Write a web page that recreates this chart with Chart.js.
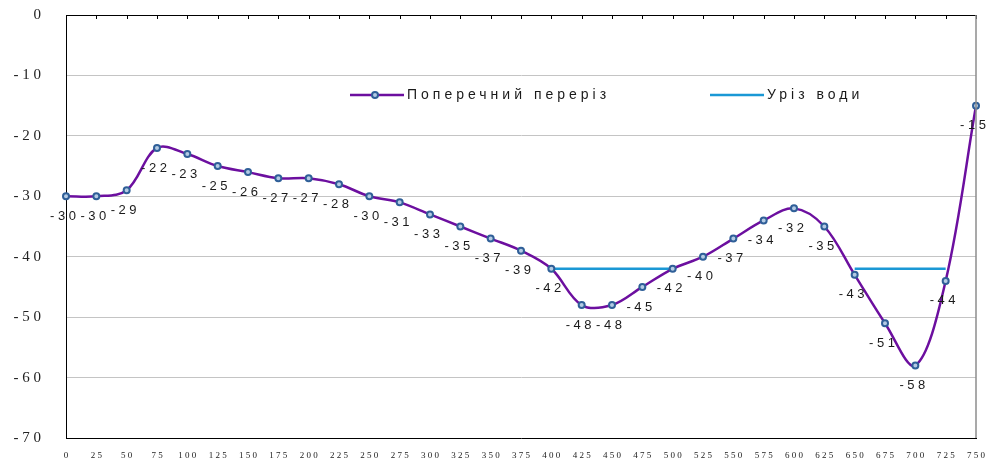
<!DOCTYPE html>
<html>
<head>
<meta charset="utf-8">
<script src="https://cdn.jsdelivr.net/npm/chart.js@4/dist/chart.umd.min.js"></script>
<style>
  html, body { margin: 0; padding: 0; background: #fff; }
</style>
</head>
<body>
<canvas id="chart" width="987" height="464"></canvas>
<script>
// --- Data ---
const distances = [0, 25, 50, 75, 100, 125, 150, 175, 200, 225, 250, 275, 300, 325, 350, 375,
                   400, 425, 450, 475, 500, 525, 550, 575, 600, 625, 650, 675, 700, 725, 750];
const depths = [-30, -30, -29, -22, -23, -25, -26, -27, -27, -28, -30, -31, -33, -35, -37, -39,
                -42, -48, -48, -45, -42, -40, -37, -34, -32, -35, -43, -51, -58, -44, -15];
const waterX = [400, 500, 575, 650, 725];
const waterY = [-42, -42, null, -42, -42];
const seriesNames = ["Поперечний переріз", "Уріз води"];

const PURPLE = "#6c0f9f";
const WATER = "#1a98d5";

// "-30" -> "- 3 0"
const spaced = v => String(v).split("").join(" ");

// drop the automatic label padding so the plot box sits where we want it
const noPad = s => { s.paddingTop = 0; s.paddingBottom = 0; s.paddingLeft = 0; s.paddingRight = 0; };

// top border with inward ticks + grey right border
const framePlugin = {
    id: "frame",
    afterDraw(chart) {
        const { ctx, chartArea: a, scales: { x } } = chart;
        ctx.save();
        ctx.strokeStyle = "#000";
        ctx.lineWidth = 1;
        ctx.beginPath();
        ctx.moveTo(a.left, a.top + 0.5);
        ctx.lineTo(a.right, a.top + 0.5);
        x.ticks.forEach(t => {
            const px = Math.round(x.getPixelForValue(t.value)) + 0.5;
            ctx.moveTo(px, a.top);
            ctx.lineTo(px, a.top + 4);
        });
        ctx.stroke();
        ctx.strokeStyle = "#8c8c8c";
        ctx.lineWidth = 1.5;
        ctx.beginPath();
        ctx.moveTo(a.right, a.top);
        ctx.lineTo(a.right, a.bottom);
        ctx.stroke();
        ctx.restore();
    }
};

// value labels under each point
const labelPlugin = {
    id: "pointLabels",
    afterDatasetsDraw(chart) {
        const { ctx } = chart;
        const meta = chart.getDatasetMeta(0);
        ctx.save();
        ctx.font = "13px 'Liberation Sans', Arial, sans-serif";
        ctx.letterSpacing = "3.5px";
        ctx.fillStyle = "#1a1a1a";
        ctx.textBaseline = "middle";
        ctx.textAlign = "left";
        meta.data.forEach((pt, i) => {
            const txt = String(depths[i]);
            const w = ctx.measureText(txt).width - 3.5;
            ctx.fillText(txt, pt.x - 3 - w / 2, pt.y + 20);
        });
        ctx.restore();
    }
};

// legend drawn inside the plot
const legendPlugin = {
    id: "innerLegend",
    afterDraw(chart) {
        const { ctx } = chart;
        const ds = chart.data.datasets;
        const y = 95;
        const items = [{ x: 350, d: ds[0], marker: true }, { x: 710, d: ds[1], marker: false }];
        ctx.save();
        items.forEach(it => {
            ctx.strokeStyle = it.d.borderColor;
            ctx.lineWidth = it.d.borderWidth;
            ctx.beginPath();
            ctx.moveTo(it.x, y);
            ctx.lineTo(it.x + 54, y);
            ctx.stroke();
            if (it.marker) {
                ctx.beginPath();
                ctx.arc(it.x + 25, y, it.d.pointRadius, 0, Math.PI * 2);
                ctx.fillStyle = it.d.pointBackgroundColor;
                ctx.fill();
                ctx.lineWidth = it.d.pointBorderWidth;
                ctx.strokeStyle = it.d.pointBorderColor;
                ctx.stroke();
            }
            ctx.font = "14px 'Liberation Sans', Arial, sans-serif";
            ctx.letterSpacing = "4px";
            ctx.fillStyle = "#1a1a1a";
            ctx.textBaseline = "middle";
            ctx.fillText(it.d.label, it.x + 57, y);
        });
        ctx.restore();
    }
};

new Chart(document.getElementById("chart"), {
    type: "line",
    data: {
        datasets: [
            {
                label: seriesNames[0],
                data: distances.map((d, i) => ({ x: d, y: depths[i] })),
                borderColor: PURPLE,
                borderWidth: 2.5,
                tension: 0.35,
                pointRadius: 3,
                pointBorderWidth: 2,
                pointBorderColor: "#2f5f98",
                pointBackgroundColor: "#b4cbe4",
                clip: 8,
                order: 0
            },
            {
                label: seriesNames[1],
                data: waterX.map((d, i) => ({ x: d, y: waterY[i] })),
                borderColor: WATER,
                borderWidth: 2.5,
                pointRadius: 0,
                spanGaps: false,
                tension: 0,
                order: 1
            }
        ]
    },
    options: {
        responsive: false,
        animation: false,
        devicePixelRatio: 1,
        layout: { padding: { top: 15, right: 11, left: 0, bottom: 0 } },
        plugins: { legend: { display: false }, tooltip: { enabled: false } },
        scales: {
            x: {
                type: "linear",
                min: 0,
                max: 750,
                afterFit: s => { s.height = 26; noPad(s); },
                ticks: {
                    stepSize: 25,
                    autoSkip: false,
                    maxRotation: 0,
                    padding: 12,
                    color: "#222",
                    font: { family: "'Liberation Serif', 'Times New Roman', serif", size: 9 },
                    callback: v => spaced(v)
                },
                grid: { drawOnChartArea: false, drawTicks: false },
                border: { color: "#000", width: 1 }
            },
            y: {
                min: -70,
                max: 0,
                afterFit: s => { s.width = 66; noPad(s); },
                ticks: {
                    stepSize: 10,
                    padding: 25,
                    color: "#222",
                    font: { family: "'Liberation Serif', 'Times New Roman', serif", size: 15 },
                    callback: v => spaced(v)
                },
                grid: { color: "#c4c4c4", drawTicks: false },
                border: { color: "#000", width: 1 }
            }
        }
    },
    plugins: [framePlugin, labelPlugin, legendPlugin]
});
</script>
</body>
</html>
